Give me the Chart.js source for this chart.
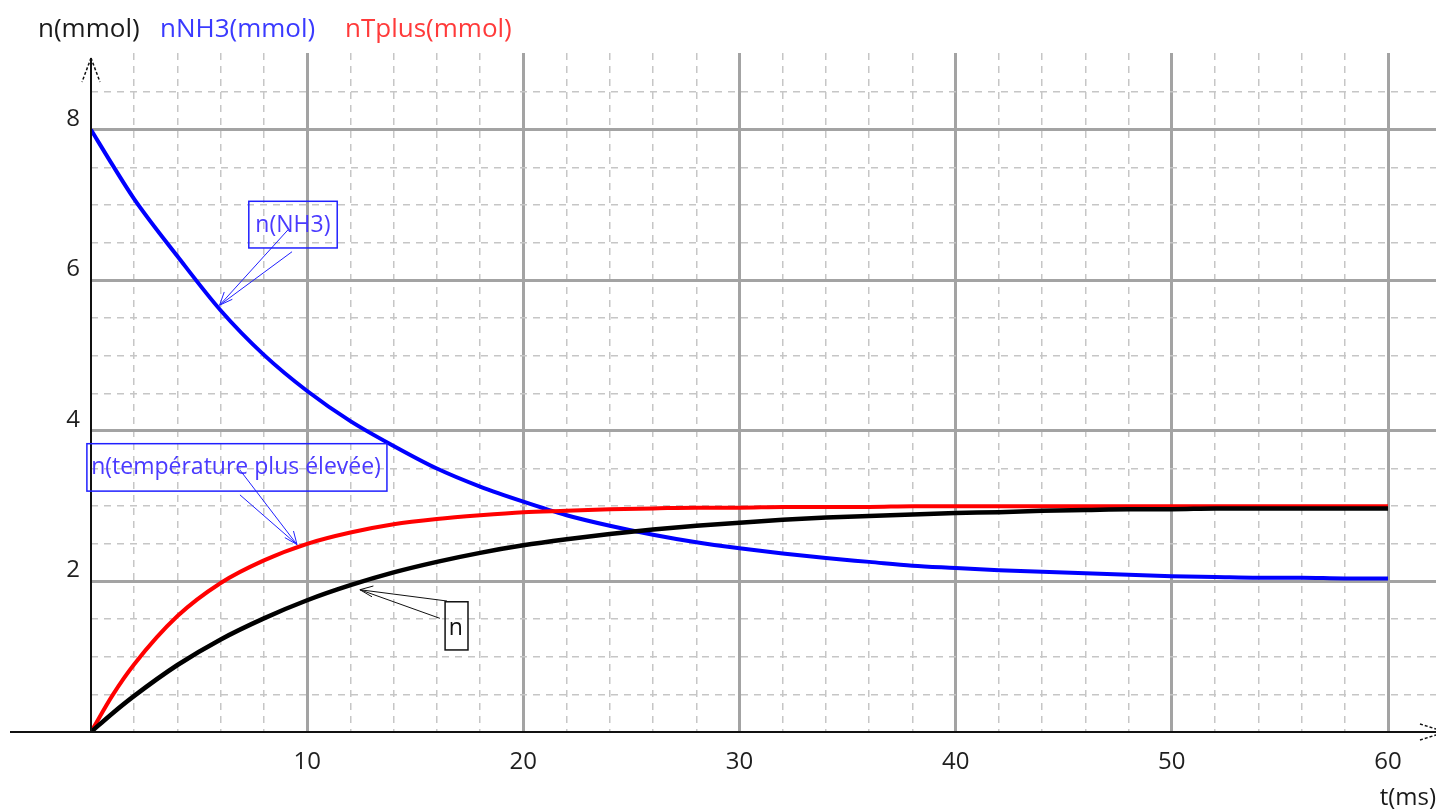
<!DOCTYPE html>
<html>
<head>
<meta charset="utf-8">
<script src="https://cdn.jsdelivr.net/npm/chart.js@4"></script>
<style>
html, body { margin: 0; padding: 0; background: #fff; }
#chart { display: block; }
</style>
</head>
<body>
<canvas id="chart" width="1436" height="812"></canvas>
<script>
// values (t in ms, amounts in mmol)
const times = [0, 1, 2, 4, 6, 8, 10, 12, 14, 16, 18, 20, 22, 24, 26, 28, 30,
    32, 34, 36, 38, 40, 42, 44, 46, 48, 50, 52, 54, 56, 58, 60];
const nValues = [0, 0.25, 0.48, 0.89, 1.23, 1.51, 1.75, 1.95, 2.12, 2.26, 2.38, 2.48, 2.56, 2.63, 2.69, 2.74, 2.78,
    2.82, 2.85, 2.87, 2.89, 2.91, 2.92, 2.94, 2.95, 2.96, 2.96, 2.97, 2.97, 2.97, 2.97, 2.97];
const nNH3Values = [8, 7.53, 7.08, 6.32, 5.60, 5.01, 4.53, 4.13, 3.80, 3.50, 3.26, 3.06, 2.88, 2.74, 2.62, 2.52, 2.44,
    2.37, 2.31, 2.26, 2.21, 2.18, 2.15, 2.13, 2.11, 2.09, 2.07, 2.06, 2.05, 2.05, 2.04, 2.04];
const nTplusValues = [0, 0.49, 0.90, 1.54, 1.98, 2.28, 2.50, 2.65, 2.76, 2.83, 2.88, 2.92, 2.94, 2.96, 2.97, 2.98, 2.98,
    2.99, 2.99, 2.99, 3.0, 3.0, 3.0, 3.0, 3.0, 3.0, 3.0, 3.0, 3.0, 3.0, 3.0, 3.0];

const xTickLabels = [10, 20, 30, 40, 50, 60];
const yTickLabels = [2, 4, 6, 8];
const topTitles = ['n(mmol)', 'nNH3(mmol)', 'nTplus(mmol)'];
const topTitleColors = ['#1a1a1a', '#3a3aff', '#ff3a3a'];
const topTitleX = [38, 160, 345];
const xTitle = 't(ms)';

// callouts, placed in data units
const callouts = [
    { text: 'n(NH3)', color: '#2020ff', textColor: '#4a3aff',
      box: [7.30, 7.05, 11.39, 6.43], label: [9.34, 6.73],
      tip: [5.95, 5.67], from: [[9.11, 6.67], [9.30, 6.38]] },
    { text: 'n(température plus élevée)', color: '#2020ff', textColor: '#4a3aff',
      box: [-0.19, 3.83, 13.69, 3.20], label: [6.71, 3.51],
      tip: [9.53, 2.49], from: [[6.89, 3.48], [6.89, 3.15]] },
    { text: 'n', color: '#111', textColor: '#111',
      box: [16.38, 1.73, 17.44, 1.09], label: [16.88, 1.38],
      tip: [12.44, 1.89], from: [[16.47, 1.74], [16.14, 1.51]] },
];

const FONT = "'Open Sans', 'Noto Sans', sans-serif";

function toPoints(values) {
    return times.map((t, i) => ({ x: t, y: values[i] }));
}

function isMult(v, step) {
    return Math.abs(v / step - Math.round(v / step)) < 1e-6;
}

function gridColorX(ctx) {
    const v = ctx.tick ? ctx.tick.value : undefined;
    if (v === undefined || v <= 0 || v > 60.001 || !isMult(v, 2)) return 'rgba(0,0,0,0)';
    return isMult(v, 10) ? '#a3a3a3' : '#c6c6c6';
}

function gridColorY(ctx) {
    const v = ctx.tick ? ctx.tick.value : undefined;
    if (v === undefined || v <= 0 || v >= 8.99 || !isMult(v, 0.5)) return 'rgba(0,0,0,0)';
    return isMult(v, 2) ? '#a3a3a3' : '#c6c6c6';
}

function drawArrow(ctx, x1, y1, x2, y2) {
    ctx.beginPath();
    ctx.moveTo(x1, y1);
    ctx.lineTo(x2, y2);
    ctx.stroke();
}

const overlay = {
    id: 'overlay',
    beforeDraw(chart) {
        const c = chart.ctx;
        c.save();
        c.fillStyle = '#fff';
        c.fillRect(0, 0, chart.width, chart.height);
        c.restore();
    },
    afterDraw(chart) {
        const c = chart.ctx;
        const xs = chart.scales.x, ys = chart.scales.y;
        const x0 = xs.getPixelForValue(0), y0 = ys.getPixelForValue(0);
        c.save();

        // axes
        c.strokeStyle = '#111';
        c.lineWidth = 2;
        drawArrow(c, 10, y0, chart.width, y0);
        drawArrow(c, x0, y0, x0, 58);
        c.lineWidth = 1.5;
        c.setLineDash([3, 2]);
        drawArrow(c, x0, 58, x0 - 9, 82);
        drawArrow(c, x0, 58, x0 + 9, 82);
        drawArrow(c, chart.width - 16, y0 - 8, chart.width, y0 - 3);
        drawArrow(c, chart.width - 16, y0 + 8, chart.width, y0 + 3);
        c.setLineDash([]);

        // titles
        c.font = '26px ' + FONT;
        c.textBaseline = 'middle';
        c.textAlign = 'left';
        topTitles.forEach((t, i) => {
            c.fillStyle = topTitleColors[i];
            c.fillText(t, topTitleX[i], 30);
        });
        c.font = '24px ' + FONT;
        c.fillStyle = '#1a1a1a';
        c.textAlign = 'right';
        c.fillText(xTitle, chart.width, 798);

        // callouts
        callouts.forEach(co => {
            const bx1 = xs.getPixelForValue(co.box[0]), by1 = ys.getPixelForValue(co.box[1]);
            const bx2 = xs.getPixelForValue(co.box[2]), by2 = ys.getPixelForValue(co.box[3]);
            c.strokeStyle = co.color;
            c.lineWidth = 1.5;
            c.strokeRect(bx1, by1, bx2 - bx1, by2 - by1);
            c.fillStyle = co.textColor;
            c.font = '23px ' + FONT;
            c.textAlign = 'center';
            c.textBaseline = 'middle';
            c.fillText(co.text, xs.getPixelForValue(co.label[0]), ys.getPixelForValue(co.label[1]));

            const tx2 = xs.getPixelForValue(co.tip[0]), ty2 = ys.getPixelForValue(co.tip[1]);
            c.lineWidth = 1;
            co.from.forEach(f => {
                drawArrow(c, xs.getPixelForValue(f[0]), ys.getPixelForValue(f[1]), tx2, ty2);
            });
            const fx = xs.getPixelForValue(co.from[0][0]), fy = ys.getPixelForValue(co.from[0][1]);
            const ang = Math.atan2(ty2 - fy, tx2 - fx);
            [0.4, -0.4].forEach(da => {
                drawArrow(c, tx2, ty2, tx2 - 14 * Math.cos(ang + da), ty2 - 14 * Math.sin(ang + da));
            });
        });
        c.restore();
    }
};

const config = {
    type: 'line',
    data: {
        datasets: [
            { label: 'n', data: toPoints(nValues), borderColor: '#000', borderWidth: 4.5 },
            { label: 'nTplus', data: toPoints(nTplusValues), borderColor: '#ff0000' },
            { label: 'nNH3', data: toPoints(nNH3Values), borderColor: '#0000ff' },
        ]
    },
    options: {
        responsive: false,
        animation: false,
        devicePixelRatio: 1,
        layout: { padding: { top: 53, right: 0, left: 0, bottom: 0 } },
        elements: {
            point: { radius: 0 },
            line: { borderWidth: 4, cubicInterpolationMode: 'monotone', fill: false }
        },
        plugins: { legend: { display: false }, tooltip: { enabled: false } },
        scales: {
            x: {
                type: 'linear',
                min: 0,
                max: 62.22,
                afterFit: s => { s.height = 80; s.paddingLeft = 0; s.paddingRight = 0; },
                ticks: {
                    stepSize: 2,
                    autoSkip: false,
                    maxRotation: 0,
                    padding: 16,
                    color: '#1f1f1f',
                    font: { size: 24, family: FONT },
                    callback: v => xTickLabels.includes(v) ? String(v) : ''
                },
                grid: {
                    drawTicks: false,
                    color: gridColorX,
                    lineWidth: ctx => (ctx.tick && isMult(ctx.tick.value, 10)) ? 3 : 1.5
                },
                border: {
                    display: false,
                    dash: ctx => (ctx.tick && !isMult(ctx.tick.value, 10)) ? [7, 6] : []
                }
            },
            y: {
                type: 'linear',
                min: 0,
                max: 9.02,
                afterFit: s => { s.width = 91; s.paddingTop = 0; s.paddingBottom = 0; },
                ticks: {
                    stepSize: 0.5,
                    autoSkip: false,
                    padding: 11,
                    labelOffset: -11,
                    color: '#1f1f1f',
                    font: { size: 24, family: FONT },
                    callback: v => yTickLabels.includes(v) ? String(v) : ''
                },
                grid: {
                    drawTicks: false,
                    color: gridColorY,
                    lineWidth: ctx => (ctx.tick && isMult(ctx.tick.value, 2)) ? 3 : 1.5
                },
                border: {
                    display: false,
                    dash: ctx => (ctx.tick && !isMult(ctx.tick.value, 2)) ? [7, 6] : []
                }
            }
        }
    },
    plugins: [overlay]
};

new Chart(document.getElementById('chart'), config);
</script>
</body>
</html>
